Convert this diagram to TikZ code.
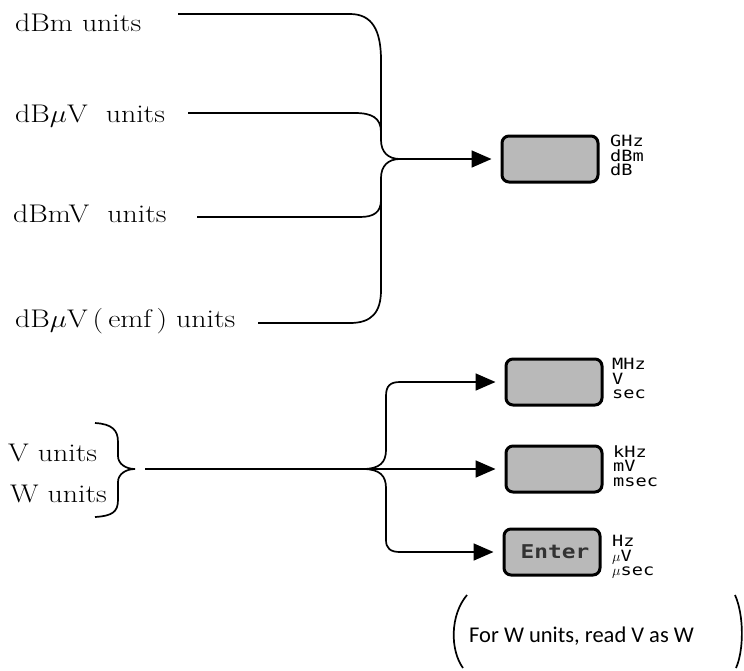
\documentclass[tikz,border=0pt]{standalone}
\usepackage{fontspec}
\usepackage{graphicx}
\usetikzlibrary{arrows.meta}
\newfontfamily\keyfont{DejaVu Sans Mono}[FakeStretch=1.2]
\newfontfamily\notefont{Carlito}
\newcommand{\widetxt}[1]{\scalebox{1.17}[1]{#1}}
\tikzset{
  unitlabel/.style={anchor=base west, inner sep=0pt, font=\fontsize{25.5}{30}\selectfont},
  keybox/.style={draw, line width=3pt, rounded corners=7pt, fill=gray!55, minimum width=96pt, minimum height=46pt, inner sep=0pt},
  keylabel/.style={anchor=north west, inner sep=0pt, align=left, font=\keyfont\fontsize{15.5}{14.5}\selectfont},
  wire/.style={line width=1.7pt},
  arrowwire/.style={wire, -{Triangle[length=20pt,width=17pt]}, shorten >=9pt},
}
\begin{document}
\begin{tikzpicture}[x=1pt,y=-1pt]
\useasboundingbox (0,0) rectangle (744,670);
% left labels
\node[unitlabel] (dbm)  at (15,31)  {\widetxt{dBm units}};
\node[unitlabel] (dbuv) at (15,122) {\widetxt{dB$\mu$V\ \ units}};
\node[unitlabel] (dbmv) at (13,222) {\widetxt{dBmV\ \ units}};
\node[unitlabel] (emf)  at (15,327) {\widetxt{dB$\mu$V\,(\,emf\,) units}};
\node[unitlabel] (vu)   at (8,461)  {\widetxt{V units}};
\node[unitlabel] (wu)   at (10,502) {\widetxt{W units}};
% keys
\node[keybox] (k1) at (550,159) {};
\node[keybox] (k2) at (554,382) {};
\node[keybox] (k3) at (554,469) {};
\node[keybox, font=\keyfont\bfseries\fontsize{19}{20}\selectfont, text=black!80] (k4) at (552,552) {\hspace*{6pt}Enter};
% key labels
\node[keylabel] (l1) at (610,135) {GHz\\dBm\\dB};
\node[keylabel] (l2) at (612,358) {MHz\\V\\sec};
\node[keylabel] (l3) at (613,445.5) {kHz\\mV\\msec};
\node[keylabel] (l4) at (612,535) {Hz\\$\mu$V\\$\mu$sec};
% note
\node[anchor=base west, inner sep=0pt, font=\notefont\fontsize{22.5}{27}\selectfont] (note) at (469,642) {For W units, read V as W};
\draw[wire] (467,595) .. controls (450,615) and (450,650) .. (463,668);
\draw[wire] (735,595) .. controls (744,615) and (744,650) .. (736,668);
% top connectors
\coordinate (s1) at (178,14);
\coordinate (s2) at (188,113);
\coordinate (s3) at (197,217);
\coordinate (s4) at (258,323);
\coordinate (tipA) at (400,159);
\draw[wire] (s1) -- (350,14) .. controls (372,14) and (381,30) .. (381,60) -- (381,140) .. controls (381,152) and (388,159) .. (tipA);
\draw[wire] (s2) -- (355,113) .. controls (372,113) and (381,118) .. (381,132);
\draw[wire] (s3) -- (360,217) .. controls (374,217) and (381,212) .. (381,200);
\draw[wire] (tipA) .. controls (388,159) and (381,166) .. (381,178) -- (381,290) .. controls (381,312) and (372,323) .. (350,323) -- (s4);
\draw[arrowwire] (tipA) -- (k1.west);
% bottom connectors
\coordinate (tipB) at (135,469);
\coordinate (s5) at (145,469);
\coordinate (fork) at (363,469);
\draw[wire] (95,423) .. controls (112,424) and (118,430) .. (118,442) -- (118,456) .. controls (118,464) and (126,469) .. (tipB) .. controls (126,469) and (118,474) .. (118,482) -- (118,500) .. controls (118,512) and (112,516) .. (95,517);
\draw[arrowwire] (s5) -- (k3.west);
\draw[arrowwire] (fork) .. controls (380,469) and (386,462) .. (386,450) -- (386,396) .. controls (386,386) and (390,382) .. (400,382) -- (k2.west);
\draw[arrowwire] (fork) .. controls (380,469) and (386,476) .. (386,488) -- (386,540) .. controls (386,548) and (390,552) .. (400,552) -- (k4.west);
\end{tikzpicture}
\end{document}
